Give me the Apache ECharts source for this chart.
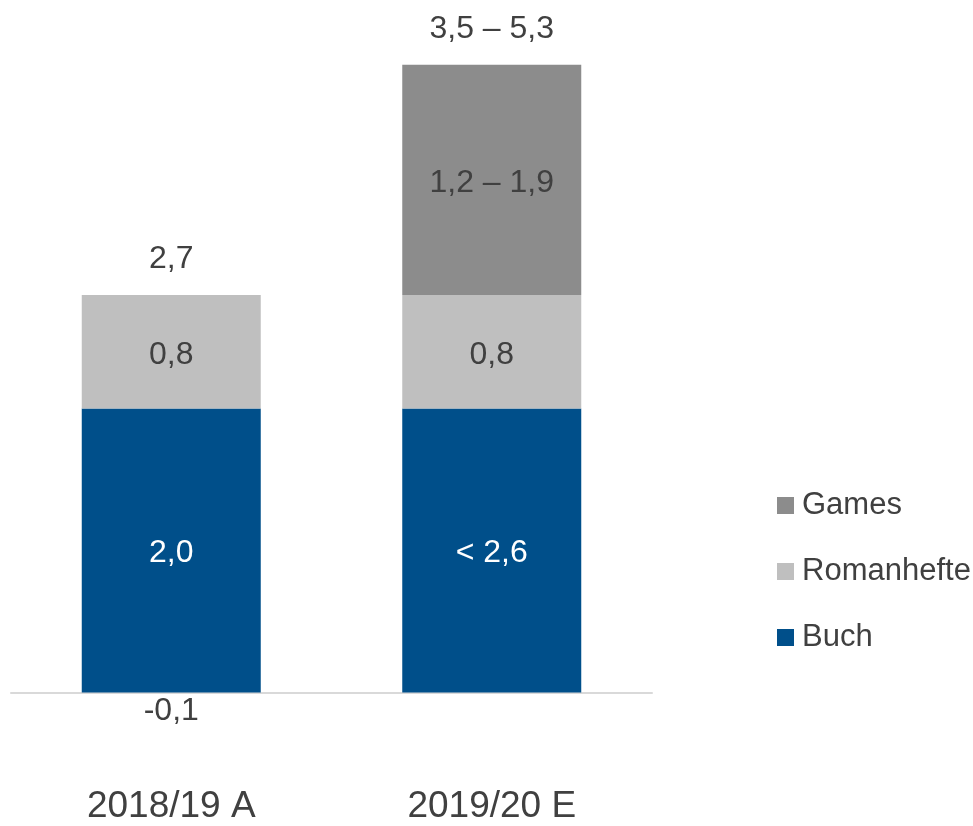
<!DOCTYPE html>
<html>
<head>
<meta charset="utf-8">
<script src="https://cdn.jsdelivr.net/npm/echarts@6/dist/echarts.min.js"></script>
<style>html,body{margin:0;padding:0;background:#fff;}#c{width:973px;height:826px;}</style>
</head>
<body>
<div id="c"></div>
<script>
var categories = ['2018/19 A', '2019/20 E'];
var buchValues = [2.0, 2.0];
var buchLabels = ['2,0', '< 2,6'];
var romanValues = [0.8, 0.8];
var romanLabels = ['0,8', '0,8'];
var gamesValues = [null, 1.62];
var gamesLabels = ['', '1,2 – 1,9'];
var totalLabels = ['2,7', '3,5 – 5,3'];
var belowValues = [-0.1, null];
var belowLabels = ['-0,1', ''];

var FONT = '"Liberation Sans", Arial, sans-serif';
var TXT = '#404040';
var totals = categories.map(function (c, i) {
  return (buchValues[i] || 0) + (romanValues[i] || 0) + (gamesValues[i] || 0);
});

function lbl(arr, color) {
  return {
    show: true, position: 'inside', offset: [0, 3], color: color, fontSize: 32, fontFamily: FONT,
    formatter: function (p) { return arr[p.dataIndex]; }
  };
}

var chart = echarts.init(document.getElementById('c'), null, {renderer: 'canvas'});
chart.setOption({
  animation: false,
  backgroundColor: '#ffffff',
  grid: {left: 11, right: 321, top: 53.5, bottom: 133.5},
  legend: {
    orient: 'vertical', left: 772, top: 485,
    data: ['Games', 'Romanhefte', 'Buch'],
    icon: 'rect', itemWidth: 17, itemHeight: 17, itemGap: 35,
    textStyle: {fontSize: 31, fontFamily: FONT, color: TXT, lineHeight: 31, padding: [0, 0, 0, 3]}
  },
  xAxis: {
    type: 'category', data: categories,
    axisLine: {lineStyle: {color: '#d9d9d9', width: 2}},
    axisTick: {show: false},
    axisLabel: {show: true, interval: 0, fontSize: 37, lineHeight: 37, fontFamily: FONT, color: TXT, margin: 96}
  },
  yAxis: {type: 'value', min: 0, max: 4.5, show: false, splitLine: {show: false}},
  series: [
    {name: 'Buch', type: 'bar', stack: 's', barWidth: 179, data: buchValues,
     itemStyle: {color: '#004f8a'}, label: lbl(buchLabels, '#ffffff')},
    {name: 'Romanhefte', type: 'bar', stack: 's', data: romanValues,
     itemStyle: {color: '#bfbfbf'}, label: lbl(romanLabels, TXT)},
    {name: 'Games', type: 'bar', stack: 's', data: gamesValues,
     itemStyle: {color: '#8c8c8c'}, label: lbl(gamesLabels, TXT)},
    {name: 'Summe', type: 'scatter', data: totals, symbolSize: 0.01, silent: true, clip: false,
     itemStyle: {opacity: 1},
     label: {show: true, position: 'top', distance: 20, color: TXT, opacity: 1, fontSize: 32, fontFamily: FONT,
             formatter: function (p) { return totalLabels[p.dataIndex]; }}},
    {name: 'Sonstiges', type: 'scatter', data: belowValues, symbolSize: 0.01, silent: true, clip: false,
     itemStyle: {opacity: 1},
     label: {show: true, position: 'inside', offset: [0, 4], color: TXT, opacity: 1, fontSize: 32, fontFamily: FONT,
             formatter: function (p) { return belowLabels[p.dataIndex]; }}}
  ]
});
</script>
</body>
</html>
